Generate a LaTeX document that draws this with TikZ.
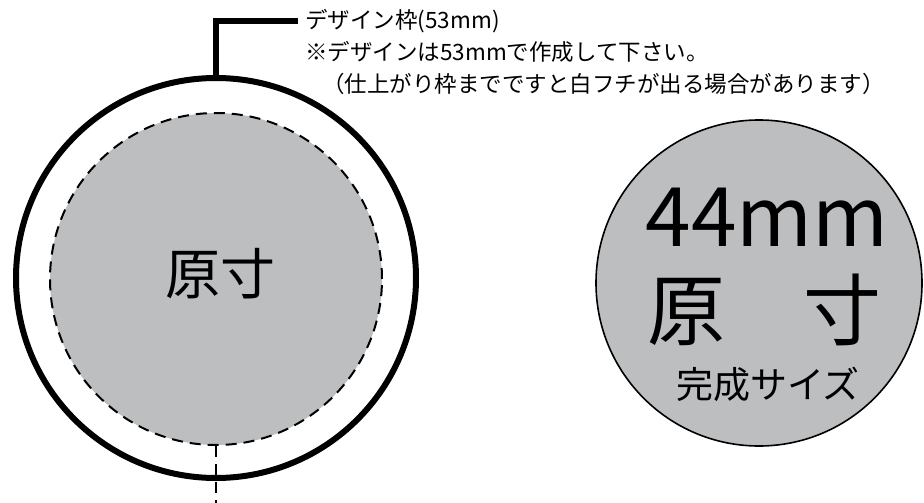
\documentclass[tikz,border=0pt]{standalone}
\usepackage{fontspec}
\setmainfont{Noto Sans CJK JP}
\usetikzlibrary{positioning}
\definecolor{padgray}{RGB}{188,190,192}
\newcommand{\fsz}[1]{\fontsize{#1pt}{#1pt}\selectfont}

\begin{document}
\begin{tikzpicture}[x=1pt,y=-1pt, semithick,
        frame/.style={circle,draw=black,line width=6pt,minimum size=400pt,inner sep=0pt},
        cut/.style={draw=black,line width=2pt,dash pattern=on 11pt off 7pt},
        note/.style={anchor=west,inner sep=0pt,font=\fsz{22.5}}]
        \useasboundingbox (0,0) rectangle (924,503);

        \node[frame]                                     (F)  at (216,278) {};
        \node[circle,fill=padgray,cut,minimum size=332pt,inner sep=0pt] (O) at (216,279) {};
        \node[font=\fsz{55}]                             (Ot) at (220,274) {原寸};
        \coordinate                                      (E)  at (216,503);

        \node[note] (N1) at (305,21) {デザイン枠(53mm)};
        \node[note] (N2) at (305,52) {※デザインは53mmで作成して下さい。};
        \node[note] (N3) at (322,84) {（仕上がり枠までですと白フチが出る場合があります）};

        \node[circle,fill=padgray,draw=black,line width=1.6pt,minimum size=326pt] (S) at (759,283) {};
        \node[font=\fsz{82}]  (S1) at (767,217) {44mm};
        \node[font=\fsz{78}]  (S2) at (764,310) {原　寸};
        \node[font=\fsz{37}]  (S3) at (768,384) {完成サイズ};

        \draw[line width=5.5pt] (F.north) |- ([xshift=-7pt]N1.west);
        \draw[cut] (O.south) -- (E);
\end{tikzpicture}
\end{document}
